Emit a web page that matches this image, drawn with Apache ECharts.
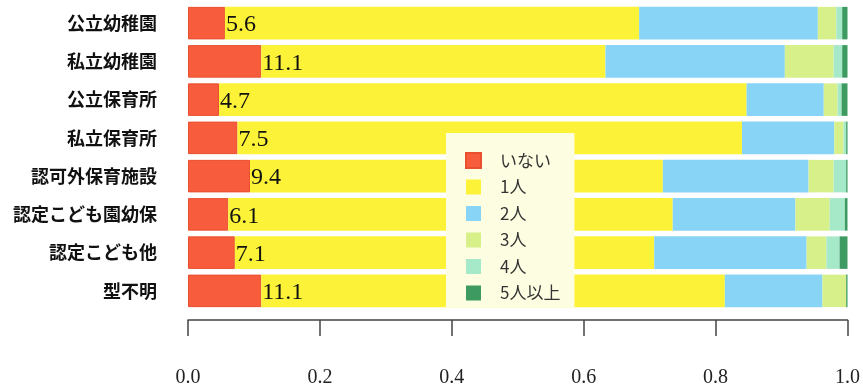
<!DOCTYPE html>
<html>
<head>
<meta charset="utf-8">
<script src="https://cdn.jsdelivr.net/npm/echarts@6/dist/echarts.min.js"></script>
<style>
html,body{margin:0;padding:0;background:#fff;}
#c{width:863px;height:388px;}
</style>
</head>
<body>
<div id="c"></div>
<script>
const categories = ['公立幼稚園','私立幼稚園','公立保育所','私立保育所','認可外保育施設','認定こども園幼保','認定こども他','型不明'];
const seriesNames = ['いない','1人','2人','3人','4人','5人以上'];
const none    = [0.056, 0.111, 0.047, 0.075, 0.094, 0.061, 0.071, 0.111];
const one     = [0.628, 0.522, 0.800, 0.765, 0.626, 0.674, 0.636, 0.703];
const two     = [0.271, 0.272, 0.117, 0.140, 0.221, 0.186, 0.231, 0.148];
const three   = [0.028, 0.074, 0.021, 0.014, 0.038, 0.052, 0.030, 0.036];
const four    = [0.009, 0.013, 0.006, 0.004, 0.019, 0.023, 0.020, 0.000];
const fivePlus= [0.008, 0.008, 0.009, 0.002, 0.002, 0.004, 0.012, 0.002];
const xTicks  = [0, 0.2, 0.4, 0.6, 0.8, 1.0];

const colors = ['#f75c3d','#fcf338','#88d4f7','#d7f08a','#a6e9c8','#3d9b61'];
const values = [none, one, two, three, four, fivePlus];

const chart = echarts.init(document.getElementById('c'), null, {renderer:'canvas'});
const series = values.map((arr, i) => ({
  name: seriesNames[i],
  type: 'bar',
  stack: 'total',
  data: arr,
  barCategoryGap: '15%',
  itemStyle: i === 0 ? {color: colors[i], borderColor: '#e9502f', borderWidth: 1} : {color: colors[i]},
  label: i === 0 ? {
    show: true,
    position: 'right',
    distance: 1,
    offset: [0, 2],
    formatter: p => (p.value * 100).toFixed(1),
    fontFamily: 'Liberation Serif',
    fontSize: 24,
    color: '#111'
  } : {show: false},
  emphasis: {disabled: true}
}));

chart.setOption({
  animation: false,
  color: colors,
  grid: {left: 188, right: 13, top: 4, bottom: 78},
  legend: {
    data: seriesNames,
    orient: 'vertical',
    left: 446,
    top: 133,
    backgroundColor: '#fdfde2',
    padding: [19, 14, 6, 19],
    itemWidth: 15,
    itemHeight: 15,
    itemGap: 9.5,
    icon: 'rect',
    textStyle: {
      fontFamily: 'Noto Sans CJK JP',
      fontSize: 17,
      lineHeight: 17,
      color: '#333',
      padding: [0, 0, 0, 14]
    }
  },
  xAxis: {
    type: 'value',
    min: 0,
    max: 1,
    interval: 0.2,
    offset: 10,
    splitLine: {show: false},
    axisLine: {show: true, lineStyle: {color: '#444', width: 1.5}},
    axisTick: {show: true, length: 16, lineStyle: {color: '#444', width: 1.5}},
    axisLabel: {
      margin: 48,
      fontFamily: 'Liberation Serif',
      fontSize: 20,
      color: '#222',
      formatter: v => xTicks.includes(Math.round(v*10)/10) ? v.toFixed(1) : ''
    }
  },
  yAxis: {
    type: 'category',
    data: categories,
    inverse: true,
    axisLine: {show: false},
    axisTick: {show: false},
    axisLabel: {
      margin: 31,
      fontFamily: 'Noto Sans CJK JP',
      fontWeight: 'bold',
      fontSize: 18,
      color: '#111'
    }
  },
  series: series
});
</script>
</body>
</html>
